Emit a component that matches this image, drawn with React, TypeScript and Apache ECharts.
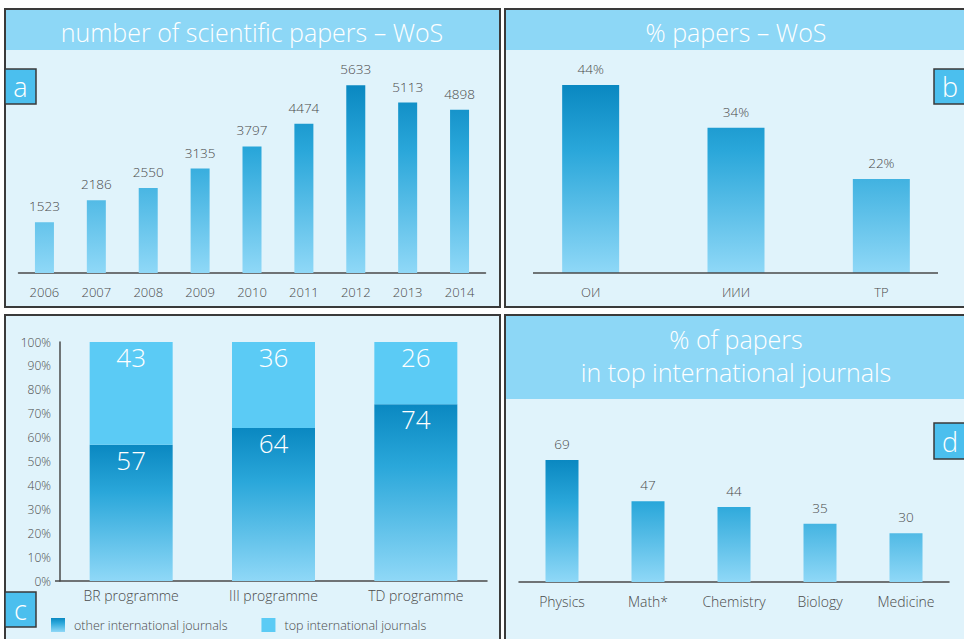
import React, { useEffect, useRef } from "react";
import * as echarts from "echarts";

const years = ["2006", "2007", "2008", "2009", "2010", "2011", "2012", "2013", "2014"];
const papers = [1523, 2186, 2550, 3135, 3797, 4474, 5633, 5113, 4898];

const wosCats = ["ОИ", "ИИИ", "ТР"];
const wosPct = [44, 34, 22];

const progCats = ["BR programme", "III programme", "TD programme"];
const otherJournals = [57, 64, 74];
const topJournals = [43, 36, 26];
const pctTicks = ["0%", "10%", "20%", "30%", "40%", "50%", "60%", "70%", "80%", "90%", "100%"];

const fields = ["Physics", "Math*", "Chemistry", "Biology", "Medicine"];
const fieldPct = [69, 47, 44, 35, 30];

const FONT = "'Open Sans', 'Noto Sans', sans-serif";
const DARK = "#0a88c1";
const MID = "#2aa7da";
const LIGHT = "#8fd8f7";
const TOPC = "#5bcbf5";
const BG = "#e0f3fb";
const BAND = "#8dd7f6";
const BORDER = "#3a3a3a";
const TXT = "#4a4a4a";

const grad = (y0: number, y1: number) =>
  new echarts.graphic.LinearGradient(0, y0, 0, y1, [
    { offset: 0, color: DARK },
    { offset: 0.35, color: MID },
    { offset: 1, color: LIGHT },
  ], true);

const localGrad = () =>
  new echarts.graphic.LinearGradient(0, 0, 0, 1, [
    { offset: 0, color: DARK },
    { offset: 0.35, color: MID },
    { offset: 1, color: LIGHT },
  ]);

const panel = (x: number, y: number, w: number, h: number) => ({
  type: "rect", z: -10, shape: { x, y, width: w, height: h },
  style: { fill: BG, stroke: BORDER, lineWidth: 2 },
});
const band = (x: number, y: number, w: number, h: number) => ({
  type: "rect", z: -9, shape: { x, y, width: w, height: h }, style: { fill: BAND },
});
const title = (x: number, y: number, text: string) => ({
  type: "text", z: -8, x, y,
  style: { text, fill: "#fff", fontSize: 25, fontWeight: 300, fontFamily: FONT, align: "center", verticalAlign: "middle", lineHeight: 33 },
});
const letter = (x: number, y: number, w: number, h: number, t: string) => ({
  type: "group", z: 20, children: [
    { type: "rect", shape: { x, y, width: w, height: h }, style: { fill: "#4bbfee", stroke: BORDER, lineWidth: 1.5 } },
    { type: "text", x: x + w / 2, y: y + h / 2, style: { text: t, fill: "#fff", fontSize: 27, fontWeight: 300, fontFamily: FONT, align: "center", verticalAlign: "middle" } },
  ],
});

export default function App() {
  const ref = useRef<HTMLDivElement>(null);
  useEffect(() => {
    if (!ref.current) return;
    const chart = echarts.init(ref.current, null, { renderer: "svg" });
    const axisLabel = { color: TXT, fontSize: 13, fontWeight: 300, fontFamily: FONT, interval: 0 };
    const valLabel = { show: true, position: "top", distance: 9, color: TXT, fontSize: 13.5, fontWeight: 300, fontFamily: FONT };
    chart.setOption({
      animation: false,
      backgroundColor: "#fff",
      grid: [
        { left: 18.5, top: 73, width: 467, height: 200 },
        { left: 518, top: 59.4, width: 436, height: 213.6 },
        { left: 60, top: 342, width: 427, height: 239 },
        { left: 519, top: 439.4, width: 430, height: 142.6 },
      ],
      xAxis: [
        { type: "category", gridIndex: 0, data: years, axisTick: { show: false }, axisLine: { lineStyle: { color: TXT, width: 1.5 } }, axisLabel: { ...axisLabel, margin: 12 } },
        { type: "category", gridIndex: 1, data: wosCats, axisTick: { show: false }, axisLine: { show: false }, axisLabel: { ...axisLabel, margin: 12 } },
        { type: "category", gridIndex: 2, data: progCats, axisTick: { show: false }, axisLine: { lineStyle: { color: TXT, width: 1.5 } }, axisLabel: { ...axisLabel, fontSize: 14, margin: 7 } },
        { type: "category", gridIndex: 3, data: fields, axisTick: { show: false }, axisLine: { lineStyle: { color: TXT, width: 1.5 } }, axisLabel: { ...axisLabel, fontSize: 14, margin: 12 } },
      ],
      yAxis: [
        { type: "value", gridIndex: 0, min: 0, max: 6000, show: false },
        { type: "value", gridIndex: 1, min: 0, max: 50, show: false },
        { type: "value", gridIndex: 2, min: 0, max: 100, interval: 10, splitLine: { show: false },
          axisLine: { show: true, lineStyle: { color: TXT, width: 1.5 } },
          axisTick: { show: false },
          axisLabel: { ...axisLabel, fontSize: 12, margin: 9, formatter: (v: number) => pctTicks[Math.round(v / 10)] } },
        { type: "value", gridIndex: 3, min: 4, max: 80, show: false },
      ],
      legend: {
        left: 51, top: 618, padding: 0, itemWidth: 14, itemHeight: 14, itemGap: 34,
        icon: "rect",
        textStyle: { color: TXT, fontSize: 12.5, fontWeight: 300, fontFamily: FONT, padding: [0, 0, 0, 4] },
        data: [
          { name: "other international journals", itemStyle: { color: localGrad() } },
          { name: "top international journals", itemStyle: { color: TOPC } },
        ],
      },
      series: [
        { type: "bar", xAxisIndex: 0, yAxisIndex: 0, data: papers, barWidth: 19, itemStyle: { color: grad(85, 273) }, label: valLabel },
        { type: "bar", xAxisIndex: 1, yAxisIndex: 1, data: wosPct, barWidth: 57, itemStyle: { color: grad(85, 273) }, label: { ...valLabel, formatter: "{c}%" } },
        { name: "other international journals", type: "bar", stack: "p", xAxisIndex: 2, yAxisIndex: 2, data: otherJournals, barWidth: 83, itemStyle: { color: localGrad() },
          label: { show: true, position: "insideTop", distance: 2, color: "#fff", fontSize: 26, fontWeight: 300, fontFamily: FONT } },
        { name: "top international journals", type: "bar", stack: "p", xAxisIndex: 2, yAxisIndex: 2, data: topJournals, barWidth: 83, itemStyle: { color: TOPC },
          label: { show: true, position: "insideTop", distance: 2, color: "#fff", fontSize: 26, fontWeight: 300, fontFamily: FONT } },
        { type: "bar", xAxisIndex: 3, yAxisIndex: 3, data: fieldPct, barWidth: 33, itemStyle: { color: grad(460, 582) }, label: valLabel },
      ],
      graphic: [
        panel(5, 9, 495, 298),
        panel(505, 9, 462, 298),
        panel(5, 315, 495, 330),
        panel(505, 315, 462, 330),
        band(6, 10, 493, 40),
        band(506, 10, 460, 40),
        band(506, 316, 460, 83),
        title(252, 32, "number of scientific papers – WoS"),
        title(736, 32, "% papers – WoS"),
        title(736, 355, "% of papers\nin top international journals"),
        { type: "line", z: 5, shape: { x1: 533, y1: 273, x2: 938, y2: 273 }, style: { stroke: TXT, lineWidth: 1.5 } },
        { type: "line", z: 5, shape: { x1: 55, y1: 581, x2: 60, y2: 581 }, style: { stroke: TXT, lineWidth: 1.5 } },
        letter(5, 69, 31, 35, "a"),
        letter(934, 69, 32, 35, "b"),
        letter(5, 592, 31, 35, "c"),
        letter(934, 423, 32, 36, "d"),
      ],
    });
    return () => chart.dispose();
  }, []);
  return <div ref={ref} style={{ position: "fixed", left: 0, top: 0, width: 964, height: 639 }} />;
}
